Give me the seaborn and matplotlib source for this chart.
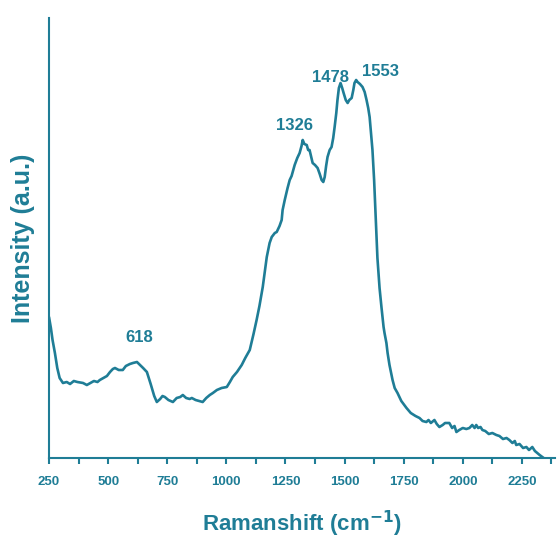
import numpy as np
import pandas as pd
import matplotlib
matplotlib.use("Agg")
import matplotlib.pyplot as plt
import seaborn as sns

teal = "#1f7d96"

ramanshift = [250, 258, 265, 275, 285, 295, 309, 325, 339, 355, 370, 394, 410, 425, 440, 455,
              465, 480, 495, 508, 520, 529, 545, 562, 575, 592, 605, 622, 635, 648, 664, 680,
              695, 706, 720, 730, 740, 755, 774, 790, 805, 816, 830, 845, 854, 870, 885, 900,
              915, 930, 943, 960, 980, 1002, 1015, 1027, 1045, 1065, 1080, 1099, 1115, 1128,
              1140, 1154, 1171, 1183, 1192, 1205, 1213, 1225, 1234, 1238, 1247, 1259, 1268,
              1276, 1289, 1300, 1310, 1318, 1323, 1330, 1340, 1346, 1352, 1360, 1365, 1375,
              1386, 1395, 1403, 1410, 1416, 1422, 1428, 1437, 1445, 1452, 1458, 1465, 1470,
              1476, 1483, 1490, 1496, 1505, 1513, 1520, 1530, 1537, 1542, 1549, 1555, 1565,
              1576, 1585, 1593, 1600, 1606, 1612, 1618, 1625, 1631, 1639, 1648, 1656, 1665,
              1669, 1677, 1682, 1690, 1703, 1712, 1724, 1740, 1762, 1780, 1800, 1817, 1830,
              1846, 1855, 1865, 1880, 1890, 1901, 1915, 1925, 1943, 1955, 1965, 1973, 1985,
              2000, 2015, 2028, 2040, 2050, 2057, 2065, 2075, 2083, 2095, 2110, 2125, 2142,
              2155, 2170, 2185, 2197, 2210, 2220, 2226, 2240, 2255, 2269, 2280, 2294, 2305,
              2315, 2325, 2336, 2342]
intensity = [141, 130, 118, 105, 90, 80, 75, 76, 74, 77, 76, 75, 73, 75, 77, 76,
             78, 80, 82, 86, 89, 90, 88, 88, 92, 94, 95, 96, 93, 90, 86, 74,
             62, 56, 59, 62, 61, 58, 56, 60, 61, 63, 60, 59, 60, 58, 57, 56,
             60, 63, 65, 68, 70, 71, 76, 81, 86, 93, 100, 108, 124, 138,
             152, 171, 201, 215, 221, 225, 226, 232, 238, 248, 258, 270, 278,
             282, 293, 300, 305, 312, 318, 314, 313, 308, 308, 300, 295, 293,
             290, 284, 278, 276, 281, 292, 301, 308, 311, 320, 331, 345, 358,
             370, 375, 370, 365, 358, 355, 358, 360, 368, 375, 378, 376, 374,
             371, 366, 358, 350, 341, 325, 308, 278, 245, 200, 170, 151, 131,
             125, 115, 105, 93, 78, 70, 65, 57, 50, 45, 42, 40, 37,
             36, 38, 35, 38, 34, 31, 33, 35, 35, 30, 32, 26, 28,
             30, 29, 30, 33, 30, 33, 30, 31, 28, 27, 24, 25, 23,
             22, 19, 20, 18, 15, 17, 13, 14, 10, 11, 8, 11, 7,
             5, 3, 1, 0]

peak_labels = ["618", "1326", "1478", "1553"]
peak_pos = [618, 1326, 1478, 1553]
label_offsets = [(3, 25), (-9, 16), (-9, 9), (23, 10)]

df = pd.DataFrame({"Ramanshift": ramanshift, "Intensity": intensity})

sns.set_theme(style="white")
plt.rcParams["font.family"] = ["Liberation Sans", "DejaVu Sans"]

fig = plt.figure(figsize=(5.57, 5.4), dpi=100)
ax = fig.add_axes([49 / 557, 82 / 540, 506 / 557, 440 / 540])

sns.lineplot(data=df, x="Ramanshift", y="Intensity", color=teal, linewidth=1.9, ax=ax, sort=False)

for lab, px, off in zip(peak_labels, peak_pos, label_offsets):
    py = np.interp(px, ramanshift, intensity)
    ax.annotate(lab, (px, py), xytext=off, textcoords="offset pixels", ha="center", va="center",
                color=teal, fontsize=12, fontweight="bold")

ax.set_xlim(250, 2390)
ax.set_ylim(0, 440)
ax.set_xticks(np.arange(250, 2251, 250))
ax.set_xticks(np.arange(375, 2390, 250), minor=True)
ax.set_yticks([])
ax.tick_params(axis="x", which="both", direction="out", length=4, width=1.5, color=teal,
               bottom=True, labelsize=9.5, labelcolor=teal, pad=9)
for t in ax.get_xticklabels():
    t.set_fontweight("bold")

for s in ["top", "right"]:
    ax.spines[s].set_visible(False)
for s in ["left", "bottom"]:
    ax.spines[s].set_color(teal)
    ax.spines[s].set_linewidth(1.5)

ax.set_xlabel("Ramanshift (cm$^{\\mathbf{-1}}$)", fontsize=16, fontweight="bold", color=teal, labelpad=15)
ax.set_ylabel("Intensity (a.u.)", fontsize=18, fontweight="bold", color=teal, labelpad=10)

fig.savefig("out.png", dpi=100)
